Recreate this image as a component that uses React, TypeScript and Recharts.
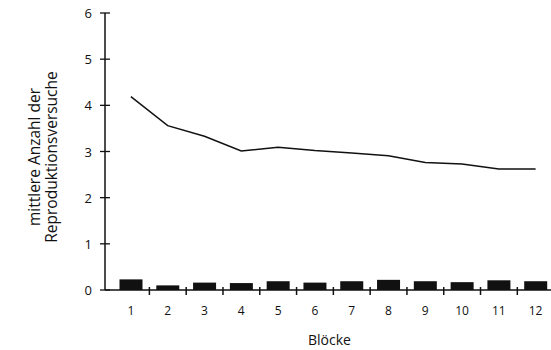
import { ComposedChart, Bar, Line, XAxis, YAxis } from 'recharts'

const blocks = ['1', '2', '3', '4', '5', '6', '7', '8', '9', '10', '11', '12']
const meanAttempts = [4.19, 3.56, 3.33, 3.01, 3.09, 3.02, 2.97, 2.91, 2.76, 2.73, 2.62, 2.62]
const barValues = [0.23, 0.1, 0.16, 0.15, 0.19, 0.16, 0.19, 0.22, 0.19, 0.17, 0.21, 0.19]
const yTicks = [0, 1, 2, 3, 4, 5, 6]

const data = blocks.map((b, i) => ({ block: b, attempts: meanAttempts[i], bar: barValues[i] }))

const ink = '#111'
const font = '"Open Sans", "DejaVu Sans", sans-serif'

const chartW = 560
const marginRight = 6
const yAxisW = 105
const xPadLeft = 7.5
const bandW = (chartW - marginRight - yAxisW - xPadLeft) / blocks.length

function YTick(props: any) {
  const { x, y, payload } = props
  return (
    <g>
      <line x1={x + 6} x2={x + 16} y1={y} y2={y} stroke={ink} strokeWidth={1.3} />
      <text x={x - 2} y={y} textAnchor="end" dominantBaseline="central" fontSize={13} fill={ink} fontFamily={font}>
        {payload.value}
      </text>
    </g>
  )
}

// bar plus the little crossing mark between this block and the next
function BlockBar(props: any) {
  const { x, y, width, height, index } = props
  const base = y + height
  const sx = x + width / 2 + bandW / 2
  return (
    <g>
      <rect x={x} y={y} width={width} height={height} fill={ink} />
      {index < blocks.length - 1 && (
        <line x1={sx} x2={sx} y1={base - 3} y2={base + 5} stroke={ink} strokeWidth={1.5} />
      )}
    </g>
  )
}

function YLabel() {
  const cy = 157
  return (
    <g transform={`rotate(-90, 42, ${cy})`} fontFamily={font} fontSize={15.5} fill={ink}>
      <text x={42} y={cy - 8} textAnchor="middle" dominantBaseline="central">mittlere Anzahl der</text>
      <text x={42} y={cy + 9} textAnchor="middle" dominantBaseline="central">Reproduktionsversuche</text>
    </g>
  )
}

function XLabel(props: any) {
  const { viewBox } = props
  return (
    <text
      x={viewBox.x + viewBox.width / 2}
      y={viewBox.y + 49}
      textAnchor="middle"
      dominantBaseline="central"
      fontSize={14}
      fill={ink}
      fontFamily={font}
    >
      Blöcke
    </text>
  )
}

export default function App() {
  return (
    <div style={{ position: 'absolute', left: 0, top: 0, width: 551, height: 350, overflow: 'hidden', background: '#fff' }}>
      <ComposedChart width={chartW} height={350} data={data} margin={{ top: 13, right: marginRight, left: 0, bottom: 0 }}>
        <XAxis
          dataKey="block"
          padding={{ left: xPadLeft, right: 0 }}
          axisLine={{ stroke: ink, strokeWidth: 1.5 }}
          tickLine={false}
          tickSize={0}
          tickMargin={16}
          height={60}
          tick={{ fontSize: 12, fill: ink, fontFamily: font }}
          interval={0}
          label={<XLabel />}
        />
        <YAxis
          width={yAxisW}
          domain={[0, 6]}
          ticks={yTicks}
          axisLine={{ stroke: ink, strokeWidth: 1.5 }}
          tickLine={false}
          tickSize={0}
          tickMargin={11}
          tick={<YTick />}
          label={<YLabel />}
        />
        <Bar dataKey="bar" fill={ink} barSize={23} shape={<BlockBar />} isAnimationActive={false} />
        <Line type="linear" dataKey="attempts" stroke={ink} strokeWidth={1.5} dot={false} isAnimationActive={false} />
      </ComposedChart>
    </div>
  )
}
